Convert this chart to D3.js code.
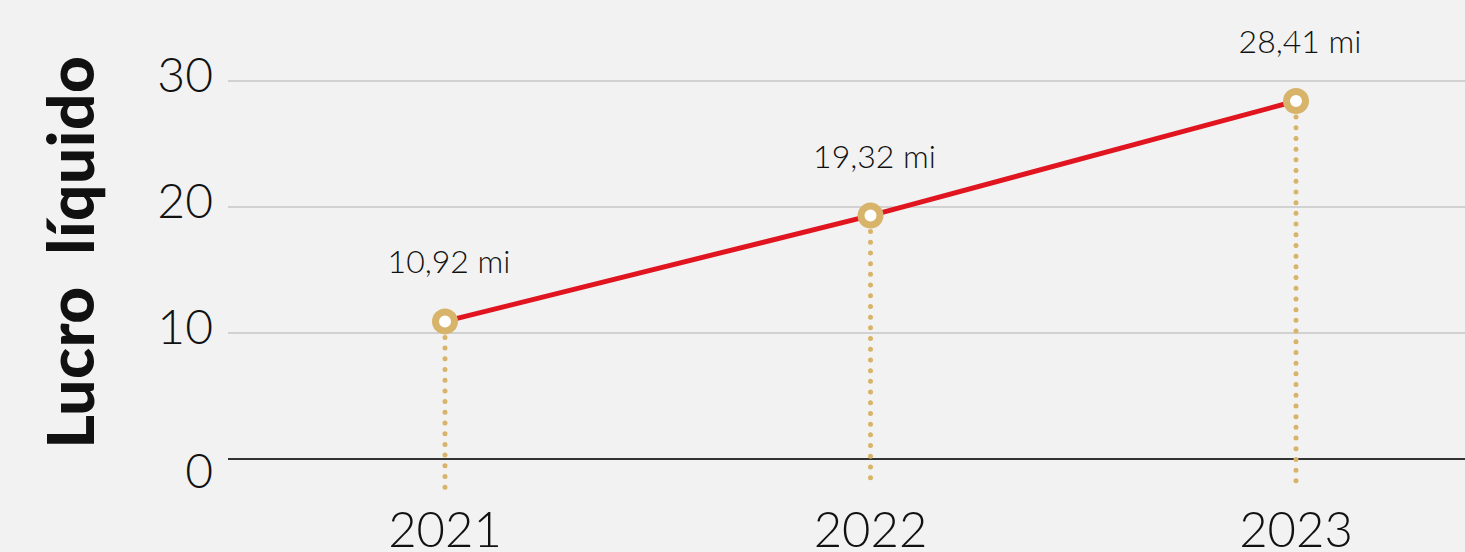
<!DOCTYPE html>
<html><head><meta charset="utf-8">
<script src="https://cdn.jsdelivr.net/npm/d3@7"></script>
<style>
html,body{margin:0;padding:0;background:#f2f2f2;overflow:hidden}
text{font-family:Lato,"Noto Sans",sans-serif}
</style></head>
<body><svg id="c" width="1465" height="552"></svg>
<script>
const years = ["2021","2022","2023"];
const values = [10.92, 19.32, 28.41];
const valueLabels = ["10,92 mi","19,32 mi","28,41 mi"];
const yTicks = [0,10,20,30];
const yTitle = "Lucro  líquido";

const svg = d3.select("#c");
const W = 1465, H = 552;
svg.append("rect").attr("width",W).attr("height",H).attr("fill","#f2f2f2");

const x = d3.scalePoint().domain(years).range([445,1296]);
const y = d3.scaleLinear().domain([0,30]).range([459,81]);
const left = 228;

// gridlines
svg.append("g").selectAll("line").data(yTicks.filter(d=>d!==0)).join("line")
  .attr("x1",left).attr("x2",W).attr("y1",d=>y(d)).attr("y2",d=>y(d))
  .attr("stroke","#c6c6c6").attr("stroke-width",1.5);
// zero line
svg.append("line").attr("x1",left).attr("x2",W).attr("y1",y(0)).attr("y2",y(0))
  .attr("stroke","#333").attr("stroke-width",2);

// y tick labels
svg.append("g").selectAll("text").data(yTicks).join("text")
  .attr("x",213).attr("y",d=>y(d)).attr("dy",d=>d===0?"0.6em":"0.22em")
  .attr("text-anchor","end").attr("font-size",48).attr("font-weight",300)
  .attr("fill","#111").text(d=>d);

// y title
svg.append("text").attr("transform","translate(94,252) rotate(-90)")
  .attr("text-anchor","middle").attr("font-size",64).attr("font-weight",900)
  .attr("letter-spacing",0.5)
  .attr("fill","#111").style("white-space","pre").text(yTitle);

// x labels
svg.append("g").selectAll("text").data(years).join("text")
  .attr("x",d=>x(d)).attr("y",547).attr("text-anchor","middle")
  .attr("font-size",49).attr("font-weight",300).attr("fill","#111").text(d=>d);

const pts = years.map((d,i)=>({year:d,v:values[i],lab:valueLabels[i]}));

// dotted drop lines
svg.append("g").selectAll("line").data(pts).join("line")
  .attr("x1",d=>x(d.year)).attr("x2",d=>x(d.year))
  .attr("y1",d=>y(d.v)+16).attr("y2",488)
  .attr("stroke","#d8b46a").attr("stroke-width",5).attr("stroke-linecap","round")
  .attr("stroke-dasharray","0 10.7");

// line
svg.append("path").datum(pts)
  .attr("d",d3.line().x(d=>x(d.year)).y(d=>y(d.v)))
  .attr("fill","none").attr("stroke","#e01520").attr("stroke-width",5);

// markers
svg.append("g").selectAll("circle").data(pts).join("circle")
  .attr("cx",d=>x(d.year)).attr("cy",d=>y(d.v)).attr("r",9.5)
  .attr("fill","#fff").attr("stroke","#d8b46a").attr("stroke-width",7);

// value labels
svg.append("g").selectAll("text").data(pts).join("text")
  .attr("x",d=>x(d.year)+4).attr("y",d=>y(d.v)-48).attr("text-anchor","middle")
  .attr("font-size",32).attr("font-weight",300).attr("fill","#111").text(d=>d.lab);
</script></body></html>
